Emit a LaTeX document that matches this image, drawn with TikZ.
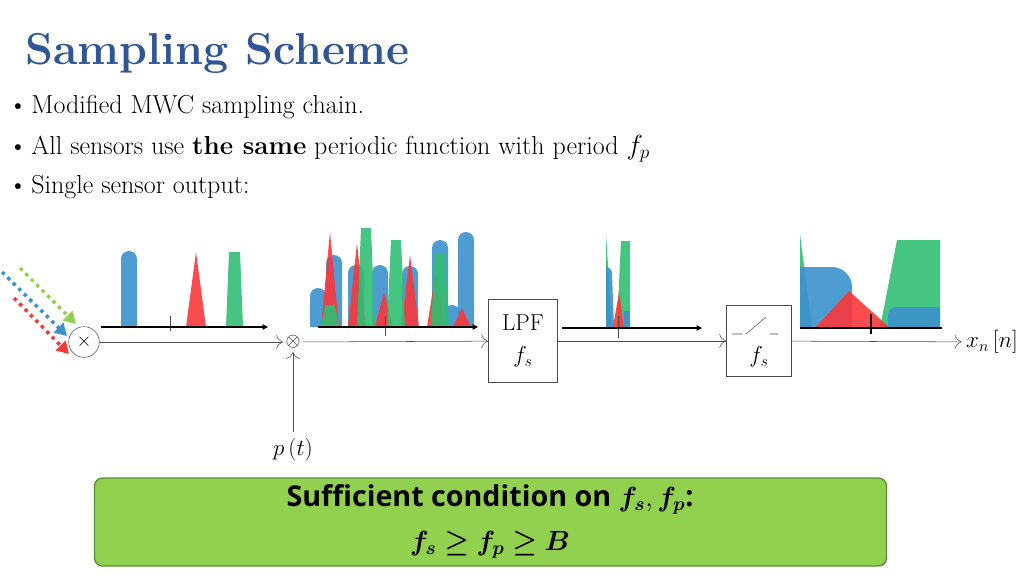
\documentclass[tikz,border=0pt]{standalone}
\usepackage{fontspec}
\usepackage{amsmath,bm}
\newfontfamily\condfont{Open Sans}
\usetikzlibrary{arrows.meta}
\definecolor{titleblue}{RGB}{47,85,151}
\definecolor{specblue}{RGB}{60,145,205}
\definecolor{specred}{RGB}{250,55,60}
\definecolor{specgreen}{RGB}{50,190,115}
\definecolor{boxgreen}{RGB}{146,208,80}
\definecolor{boxedge}{RGB}{90,140,50}
\tikzset{
  sig/.style={draw=black!70,-{To[length=5pt]}},
  axis/.style={line width=1.6pt,-{Triangle[length=4pt,width=4pt]}},
  blk/.style={draw=black!70,minimum width=52pt,minimum height=62pt,align=center,font=\LARGE},
  sb/.style={fill=specblue,fill opacity=0.9},
  sr/.style={fill=specred,fill opacity=0.9},
  sg/.style={fill=specgreen,fill opacity=0.9},
  bul/.style={anchor=base west,font=\fontsize{19.5}{22}\selectfont},
  dotarrow/.style={line width=2.6pt,dash pattern=on 2.6pt off 3.2pt,-{Triangle[length=9pt,width=10pt]}}
}
\begin{document}
\begin{tikzpicture}[x=0.75pt,y=-0.75pt]
\useasboundingbox (0,0) rectangle (1024,576);
% title and bullets
\node[anchor=base west,text=titleblue,font=\fontsize{33.5}{38}\selectfont\bfseries,inner sep=0pt] (title) at (25,64) {Sampling Scheme};
\node[bul] (b1) at (4,113) {\textbullet\hspace{3pt}Modified MWC sampling chain.};
\node[bul] (b2) at (4,154) {\textbullet\hspace{3pt}All sensors use \textbf{the same} periodic function with period $f_p$};
\node[bul] (b3) at (4,193) {\textbullet\hspace{3pt}Single sensor output:};

% chain
\node[draw=black!70,circle,minimum size=23pt,inner sep=0pt,font=\Large] (mix) at (84,342) {$\times$};
\node[circle,inner sep=0pt,font=\Large] (mod) at (293,342) {$\otimes$};
\node[blk] (lpf) at (523,341) {LPF\\[2pt]$f_s$};
\node[blk,minimum width=49pt,minimum height=53pt] (adc) at (759,341) {};
\node[font=\LARGE] (fsb) at (759,357) {$f_s$};
\node[font=\LARGE] (out) at (992,342) {$x_n\left[n\right]$};
\node[font=\LARGE] (pt) at (293,450) {$p\left(t\right)$};
\draw[black!70] (732,334) -- (742,334) (746,334) -- (766,317) (770,334) -- (778,334);
\coordinate (ptin) at (293,432);
\draw[sig] (mix) -- (mod);
\draw[sig] (mod) -- (lpf);
\draw[sig] (lpf) -- (adc);
\draw[sig] (adc) -- (out);
\draw[sig] (ptin) -- (mod);

% incoming sensor signals
\coordinate (ing) at (20,268);
\coordinate (inb) at (2,272);
\coordinate (inr) at (14,298);
\draw[dotarrow,boxgreen] (ing) -- (76,324);
\draw[dotarrow,specblue] (inb) -- (67,336);
\draw[dotarrow,specred] (inr) -- (69,354);

% spectrum 1
\fill[sb] (121,327) -- (121,259) arc[start angle=180,end angle=360,radius=8] -- (137,327) -- cycle;
\fill[sr] (186,327) -- (196,252) -- (206,327) -- cycle;
\fill[sg] (226,327) -- (229,252) -- (240,252) -- (243,327) -- cycle;
\draw[black!70] (170,316) -- (170,331);
\draw[axis] (101,327) -- (268,327);

% spectrum 2
\foreach \x/\h in {318/288,334/255,356/265,380/265,410/266,440/240,452/305,466/232}
  \fill[sb] (\x-8,327) -- (\x-8,\h+8) arc[start angle=180,end angle=360,radius=8] -- (\x+8,327) -- cycle;
\foreach \x/\h in {330/232,357/243,384/292,410/255,436/270,462/308}
  \fill[sr] (\x-9,327) -- (\x,\h) -- (\x+9,327) -- cycle;
\foreach \x/\h in {366/228,396/240,440/253,330/305}
  \fill[sg] (\x-9,327) -- (\x-5,\h) -- (\x+5,\h) -- (\x+9,327) -- cycle;
\draw[black!70] (385,316) -- (385,336);
\draw[axis] (318,327) -- (478,327);

% spectrum 3
\fill[sg] (606,327) -- (606,234) -- (612,327) -- cycle;
\fill[sg] (617,327) -- (621,241) -- (630,241) -- (630,327) -- cycle;
\fill[sb] (606,327) -- (606,267) arc[start angle=270,end angle=360,radius=6] -- (614,327) -- cycle;
\fill[sb] (624,327) -- (624,311) -- (630,311) -- (630,327) -- cycle;
\fill[sr] (613,327) -- (619,292) -- (624,327) -- cycle;
\draw[black!70] (618,316) -- (618,338);
\draw[axis] (562,328) -- (702,328);

% spectrum 4
\fill[sg] (800,328) -- (800,234) -- (812,328) -- cycle;
\fill[sg] (880,328) -- (897,240) -- (940,240) -- (940,328) -- cycle;
\fill[sb] (800,328) -- (800,267) -- (832,267) arc[start angle=270,end angle=360,radius=20] -- (852,328) -- cycle;
\fill[sr] (815,328) -- (849,291) -- (890,328) -- cycle;
\fill[sb] (888,328) -- (888,315) arc[start angle=180,end angle=270,radius=8] -- (940,307) -- (940,328) -- cycle;
\draw[line width=1.6pt] (871,314) -- (871,334);
\draw[line width=1.6pt] (800,328) -- (942,328);

% condition box
\node[draw=boxedge,fill=boxgreen,rounded corners=6pt,line width=1pt,minimum width=594pt,minimum height=66pt] (cond) at (490.5,522) {};
\node[font=\fontsize{21.5}{24}\selectfont\condfont\bfseries] (c1) at (490,499) {Sufficient condition on $\bm{f_s},\bm{f_p}$:};
\node[font=\fontsize{22}{24}\selectfont] (c2) at (490,545) {$\bm{f_s \geq f_p \geq B}$};
\end{tikzpicture}
\end{document}
